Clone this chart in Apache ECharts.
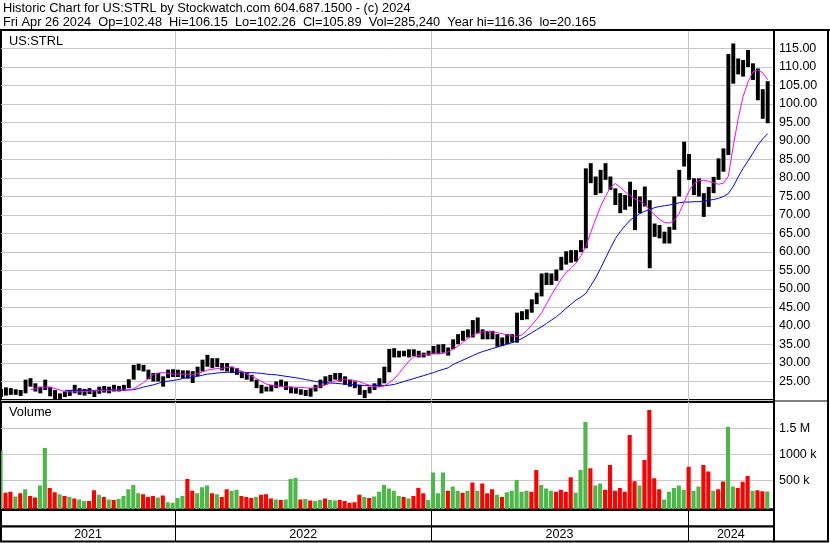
<!DOCTYPE html>
<html>
<head>
<meta charset="utf-8">
<script src="https://cdn.jsdelivr.net/npm/echarts@6/dist/echarts.min.js"></script>
<style>
html,body{margin:0;padding:0;background:#fff;}
#chart{width:830px;height:543px;}
</style>
</head>
<body>
<div id="chart"></div>
<script>
// ---------- DATA (weekly) ----------
const headerLine1 = 'Historic Chart for US:STRL by Stockwatch.com 604.687.1500 - (c) 2024';
const headerLine2 = 'Fri Apr 26 2024  Op=102.48  Hi=106.15  Lo=102.26  Cl=105.89  Vol=285,240  Year hi=116.36  lo=20.165';
const symbolLabel = 'US:STRL';
const volumeLabel = 'Volume';

// first week (Wednesday) of the series; one value per week after that
const firstWeek = [2021, 3, 28];

const weekHigh = [
23.0,23.4,23.2,22.9,22.7,25.5,25.9,24.5,23.6,25.5,
23.6,22.7,21.8,22.3,22.7,24.1,23.2,23.0,23.2,22.7,
23.6,23.8,23.6,24.1,23.8,24.1,25.6,29.5,29.8,29.5,
28.2,27.3,27.3,26.4,28.2,28.3,28.2,28.0,28.0,27.8,
29.0,30.9,32.2,31.3,31.3,30.0,30.0,29.0,28.6,27.7,
27.3,26.8,25.5,24.1,23.6,24.1,25.0,25.5,25.0,23.6,
23.2,22.9,22.7,23.2,24.1,25.5,26.4,26.8,27.3,27.3,
26.4,25.5,25.0,24.1,22.7,23.6,24.5,25.9,29.0,33.8,
34.0,33.3,33.3,33.7,33.7,33.3,32.8,33.3,34.6,35.0,
35.1,34.2,36.4,37.8,38.7,39.1,41.6,42.3,39.1,38.7,
38.7,37.8,36.9,37.8,37.8,43.6,44.0,44.5,47.2,49.0,
54.2,54.4,54.2,55.3,58.7,60.2,60.5,60.5,63.2,82.6,
84.0,80.4,82.2,84.0,80.4,77.2,75.9,75.4,79.0,76.8,
75.0,77.7,74.0,67.7,67.3,65.5,66.8,75.0,82.2,89.8,
86.5,79.9,79.9,75.9,77.6,80.3,85.3,88.0,113.5,116.36,
112.3,111.9,114.6,111.0,109.6,104.0,106.15
];
const weekLow = [
20.8,21.2,21.4,21.4,21.1,21.8,23.6,22.3,21.8,22.7,
21.0,20.17,20.2,20.8,21.1,21.8,21.4,21.2,21.6,20.8,
21.7,22.0,21.8,22.3,22.3,22.5,23.2,25.5,28.0,27.7,
25.6,25.0,25.0,23.6,25.9,26.2,26.2,25.9,25.8,24.6,
26.4,27.7,29.0,28.6,28.9,28.0,27.7,27.3,26.8,25.9,
25.5,25.0,23.2,21.8,22.3,22.3,23.2,23.6,22.7,21.8,
21.7,21.4,21.1,20.9,22.3,23.2,24.1,25.0,25.5,25.0,
24.1,23.6,23.2,21.4,20.5,21.8,22.7,23.6,24.5,27.5,
31.5,31.5,31.8,31.5,31.8,31.5,31.5,32.0,32.4,32.4,
32.8,32.0,33.7,35.1,36.0,36.9,36.9,38.0,36.4,36.4,
36.4,34.4,34.6,35.1,35.5,35.5,41.6,41.8,43.6,45.9,
48.0,51.1,51.1,52.2,55.1,56.6,57.1,57.4,60.0,61.0,
78.6,75.4,75.9,79.5,76.8,72.7,70.5,71.4,72.3,65.9,
70.5,72.3,55.6,64.1,63.7,62.3,62.3,66.0,75.0,83.1,
79.5,75.4,75.0,69.5,72.2,75.9,79.5,81.7,86.2,105.5,
108.0,107.4,110.0,106.5,101.0,96.0,94.8
];
// magenta moving average
const maFast = [
null,null,null,null,null,null,22.8,23.1,23.4,23.5,
23.4,23.1,22.7,22.3,22.2,22.2,22.2,22.3,22.4,22.5,
22.6,22.6,22.6,22.7,22.7,22.7,22.8,23.0,23.9,24.7,
25.8,26.9,27.3,27.4,27.2,27.0,27.0,27.0,27.0,26.8,
27.1,27.6,28.1,28.3,28.5,28.6,28.8,28.9,28.4,27.7,
27.0,26.4,25.8,25.0,24.3,24.0,23.8,23.7,23.6,23.5,
23.4,23.4,23.3,23.2,23.4,23.8,24.0,24.6,25.1,25.4,
25.5,25.4,25.3,24.9,24.4,24.0,23.6,23.5,23.8,24.7,
25.7,27.2,28.9,30.5,31.7,32.0,32.2,32.4,32.5,32.5,
32.6,33.0,33.8,34.6,35.6,36.6,37.5,38.1,38.4,38.5,
38.4,38.2,37.9,37.6,37.3,37.2,37.6,38.8,40.3,41.8,
43.6,46.0,48.4,50.6,52.7,54.5,55.6,57.0,59.0,61.5,
65.3,68.9,72.3,75.0,77.5,78.5,77.5,76.2,75.3,74.3,
73.9,72.8,71.5,70.0,68.8,68.0,67.8,68.5,70.5,73.5,
76.5,78.5,79.3,79.4,79.1,78.7,78.3,78.6,80.5,88.7,
96.0,102.0,106.0,108.7,109.2,108.4,106.6
];
// blue moving average
const maSlow = [
null,null,null,null,null,null,null,null,null,null,
null,null,null,22.6,22.6,22.6,22.6,22.6,22.6,22.6,
22.7,22.7,22.7,22.7,22.7,22.7,22.7,22.8,23.1,23.5,
23.8,24.1,24.5,24.9,25.1,25.3,25.5,25.8,26.0,26.1,
26.4,26.7,27.0,27.1,27.3,27.4,27.5,27.5,27.5,27.5,
27.4,27.4,27.3,27.2,27.0,26.9,26.8,26.6,26.4,26.2,
26.0,25.8,25.5,25.3,25.0,24.8,24.7,24.6,24.5,24.4,
24.3,24.2,24.1,24.0,23.9,23.9,23.9,23.9,23.9,24.0,
24.2,24.6,25.0,25.4,25.8,26.2,26.6,27.0,27.4,27.9,
28.3,28.7,29.6,30.2,30.8,31.4,32.0,32.6,33.1,33.5,
33.9,34.3,34.7,35.1,35.5,36.0,36.6,37.4,38.2,39.0,
39.8,40.7,41.6,42.5,43.6,44.8,45.9,47.0,47.8,48.8,
50.9,53.0,55.6,58.3,61.0,63.6,65.5,67.1,68.6,69.5,
70.4,71.0,71.5,72.0,72.3,72.5,72.7,73.0,73.3,73.5,
73.5,73.6,73.6,73.7,74.0,74.2,74.5,75.0,75.8,77.7,
80.3,82.6,84.6,86.7,88.9,90.6,92.0
];
// typical daily volume of each week, in thousands
const weekVolume = [
1070,260,280,190,250,330,200,170,400,1120,
350,270,230,200,180,150,130,100,100,310,
220,180,130,120,140,200,330,410,250,230,
180,200,170,210,80,70,160,200,525,300,
250,365,400,250,230,180,330,300,320,200,
180,160,180,220,230,150,130,120,130,525,
545,130,140,110,100,120,150,120,110,120,
100,70,80,220,180,160,190,280,410,340,
300,200,180,150,200,350,250,120,650,250,
650,300,380,300,260,300,460,300,440,250,
330,220,180,270,300,505,280,300,280,700,
410,340,300,280,320,280,560,260,700,1620,
730,400,440,320,795,300,350,280,1370,480,
400,890,1850,540,330,130,280,350,400,320,
760,300,380,795,670,300,330,475,1530,380,
350,470,585,300,310,290,285
];
// 1 = up (green) volume, 0 = down (red)
const weekUp = [
1,0,0,1,0,1,0,0,1,1,
0,0,1,0,1,0,1,1,0,0,
1,0,1,0,1,1,1,1,1,0,
0,0,1,0,1,1,1,1,0,0,
1,1,1,0,1,0,0,1,1,0,
0,0,1,0,0,0,1,0,1,1,
1,0,1,0,1,1,0,1,1,0,
0,0,0,0,1,0,1,1,1,1,
1,1,0,1,0,0,0,1,1,1,
1,0,1,1,0,1,0,1,0,0,
0,1,0,1,1,1,1,1,0,0,
1,1,1,0,0,0,0,1,1,1,
0,1,1,0,0,0,0,0,0,0,
1,0,0,0,0,1,1,1,1,1,
0,1,1,0,0,1,0,0,1,1,
0,0,0,1,0,0,1
];
const yearLabels = ['2021', '2022', '2023', '2024'];
const yearStarts = [[2022, 0, 1], [2023, 0, 1], [2024, 0, 1]];
const axisStart = [2021, 3, 28];
const axisEnd = [2024, 4, 3];
const priceMin = 20, priceMax = 120, priceStep = 5;
const volTicks = [500, 1000, 1500];
const volTickLabels = ['500 k', '1000 k', '1.5 M'];

// ---------- BUILD ----------
const DAY = 86400000;
const ts = a => new Date(a[0], a[1], a[2]).getTime();
const xMin = ts(axisStart), xMax = ts(axisEnd);
const weeks = weekHigh.map((_, i) => new Date(firstWeek[0], firstWeek[1], firstWeek[2] + 7 * i).getTime());
const yearTs = yearStarts.map(ts);
const segStart = [xMin].concat(yearTs);
const segEnd = yearTs.concat([xMax]);

const FONT = '"Liberation Sans", Arial, sans-serif';
const GREEN = '#4cb848', RED = '#ff0000', GRID = '#c8c8c8';

// volume axis placement: 0 sits 3px above panel bottom, 26px per 500k (layout values)
const volMin = -57.7, volMax = 2005.8;

const chart = echarts.init(document.getElementById('chart'), null, {renderer: 'canvas'});

const grids = [
  {left: 1, top: 30, width: 773, height: 370},
  {left: 1, top: 402, width: 773, height: 107.3},
  {left: 1, top: 510, width: 773, height: 16.5},
  {left: 1, top: 526.5, width: 773, height: 15}
].map(g => Object.assign({show: true, borderColor: '#000', borderWidth: 2, backgroundColor: '#fff', containLabel: false}, g));

const xAxes = grids.map((g, i) => ({
  type: 'time', gridIndex: i, min: xMin, max: xMax,
  axisLine: {show: false}, axisTick: {show: false}, axisLabel: {show: false}, splitLine: {show: false}
}));

const yAxes = [
  {type: 'value', gridIndex: 0, position: 'right', min: priceMin, max: priceMax, interval: priceStep,
   axisLine: {show: false}, axisTick: {show: false},
   splitLine: {show: true, lineStyle: {color: GRID, width: 1}},
   axisLabel: {showMinLabel: false, showMaxLabel: false, formatter: v => v.toFixed(2),
               color: '#000', fontSize: 12.5, fontFamily: FONT, margin: 5}},
  {type: 'value', gridIndex: 1, position: 'right', min: volMin, max: volMax,
   axisLine: {show: false}, axisTick: {show: false}, axisLabel: {show: false}, splitLine: {show: false}},
  {type: 'value', gridIndex: 2, min: 0, max: 1, show: false},
  {type: 'value', gridIndex: 3, min: 0, max: 1, show: false}
];

function yearLines(idx, color, width, z) {
  return {
    type: 'custom', xAxisIndex: idx, yAxisIndex: idx, z: z, silent: true,
    data: yearTs.map(t => [t]), encode: {x: 0},
    renderItem: (params, api) => {
      const cs = params.coordSys;
      const x = Math.round(api.coord([api.value(0), 0])[0]) + 0.5;
      return {type: 'line', shape: {x1: x, y1: cs.y, x2: x, y2: cs.y + cs.height},
              style: {stroke: color, lineWidth: width}};
    }
  };
}

const series = [
  yearLines(0, GRID, 1, 1),
  {
    type: 'custom', name: 'price', xAxisIndex: 0, yAxisIndex: 0, z: 2, silent: true, clip: true,
    data: weeks.map((t, i) => [t, weekLow[i], weekHigh[i]]),
    encode: {x: 0, y: [1, 2]},
    renderItem: (params, api) => {
      const t = api.value(0);
      const lo = api.coord([t, api.value(1)]);
      const hi = api.coord([t, api.value(2)]);
      const w = api.size([7 * DAY, 0])[0] * 0.8;
      return {type: 'rect', shape: {x: lo[0] - w / 2, y: hi[1], width: w, height: Math.max(1, lo[1] - hi[1])},
              style: {fill: '#000'}};
    }
  },
  {type: 'line', name: 'slow', xAxisIndex: 0, yAxisIndex: 0, z: 3, symbol: 'none', silent: true,
   data: weeks.map((t, i) => [t, maSlow[i]]), lineStyle: {color: '#0000ff', width: 1}},
  {type: 'line', name: 'fast', xAxisIndex: 0, yAxisIndex: 0, z: 4, symbol: 'none', silent: true,
   data: weeks.map((t, i) => [t, maFast[i]]), lineStyle: {color: '#ff00ff', width: 1}},

  yearLines(1, GRID, 1, 1),
  {
    type: 'custom', name: 'volgrid', xAxisIndex: 1, yAxisIndex: 1, z: 1, silent: true, clip: false,
    data: volTicks.map(v => [xMin, v]), encode: {x: 0, y: 1},
    renderItem: (params, api) => {
      const cs = params.coordSys;
      const y = Math.round(api.coord([api.value(0), api.value(1)])[1]) + 0.5;
      return {type: 'group', children: [
        {type: 'line', shape: {x1: cs.x, y1: y, x2: cs.x + cs.width, y2: y}, style: {stroke: GRID, lineWidth: 1}},
        {type: 'text', x: cs.x + cs.width + 5, y: y,
         style: {text: volTickLabels[params.dataIndex], fill: '#000', font: '12.5px ' + FONT,
                 align: 'left', verticalAlign: 'middle'}}
      ]};
    }
  },
  {
    type: 'custom', name: 'volume', xAxisIndex: 1, yAxisIndex: 1, z: 2, silent: true, clip: true,
    data: weeks.map((t, i) => [t, weekVolume[i], weekUp[i]]),
    encode: {x: 0, y: 1},
    renderItem: (params, api) => {
      const cs = params.coordSys;
      const top = api.coord([api.value(0), api.value(1)]);
      const bottom = cs.y + cs.height;
      const w = api.size([7 * DAY, 0])[0];
      return {type: 'rect', shape: {x: top[0] - w / 2, y: top[1], width: w - 0.8, height: bottom - top[1]},
              style: {fill: api.value(2) ? GREEN : RED}};
    }
  },
  yearLines(2, '#000', 1, 1),
  yearLines(3, '#000', 1, 1),
  {
    type: 'custom', name: 'years', xAxisIndex: 3, yAxisIndex: 3, z: 2, silent: true,
    data: yearLabels.map((_, i) => [segStart[i], segEnd[i]]), encode: {x: [0, 1]},
    renderItem: (params, api) => {
      const cs = params.coordSys;
      const a = api.coord([api.value(0), 0])[0], b = api.coord([api.value(1), 0])[0];
      return {type: 'text', x: (a + b) / 2, y: cs.y + cs.height / 2 + 0.5,
              style: {text: yearLabels[params.dataIndex], fill: '#000', font: '12.5px ' + FONT,
                      align: 'center', verticalAlign: 'middle'}};
    }
  }
];

const titleStyle = {fontSize: 12.8, fontWeight: 'normal', color: '#000', fontFamily: FONT, lineHeight: 14.3};

chart.setOption({
  animation: false,
  backgroundColor: '#fff',
  title: [
    {text: headerLine1 + '\n' + headerLine2, left: 3, top: 1, padding: 0, textStyle: titleStyle},
    {text: symbolLabel, left: 9, top: 34.5, padding: 0, textStyle: titleStyle},
    {text: volumeLabel, left: 9, top: 405.5, padding: 0, textStyle: titleStyle}
  ],
  grid: grids,
  xAxis: xAxes,
  yAxis: yAxes,
  graphic: [
    {type: 'rect', silent: true, z: 100,
     shape: {x: 774, y: 30, width: 54, height: 511.5},
     style: {fill: 'none', stroke: '#000', lineWidth: 2}},
    {type: 'line', silent: true, z: 100,
     shape: {x1: 774, y1: 401, x2: 828, y2: 401},
     style: {stroke: '#000', lineWidth: 1}},
    {type: 'line', silent: true, z: 100,
     shape: {x1: 0, y1: 30, x2: 830, y2: 30},
     style: {stroke: '#000', lineWidth: 2}}
  ],
  series: series
});
</script>
</body>
</html>
